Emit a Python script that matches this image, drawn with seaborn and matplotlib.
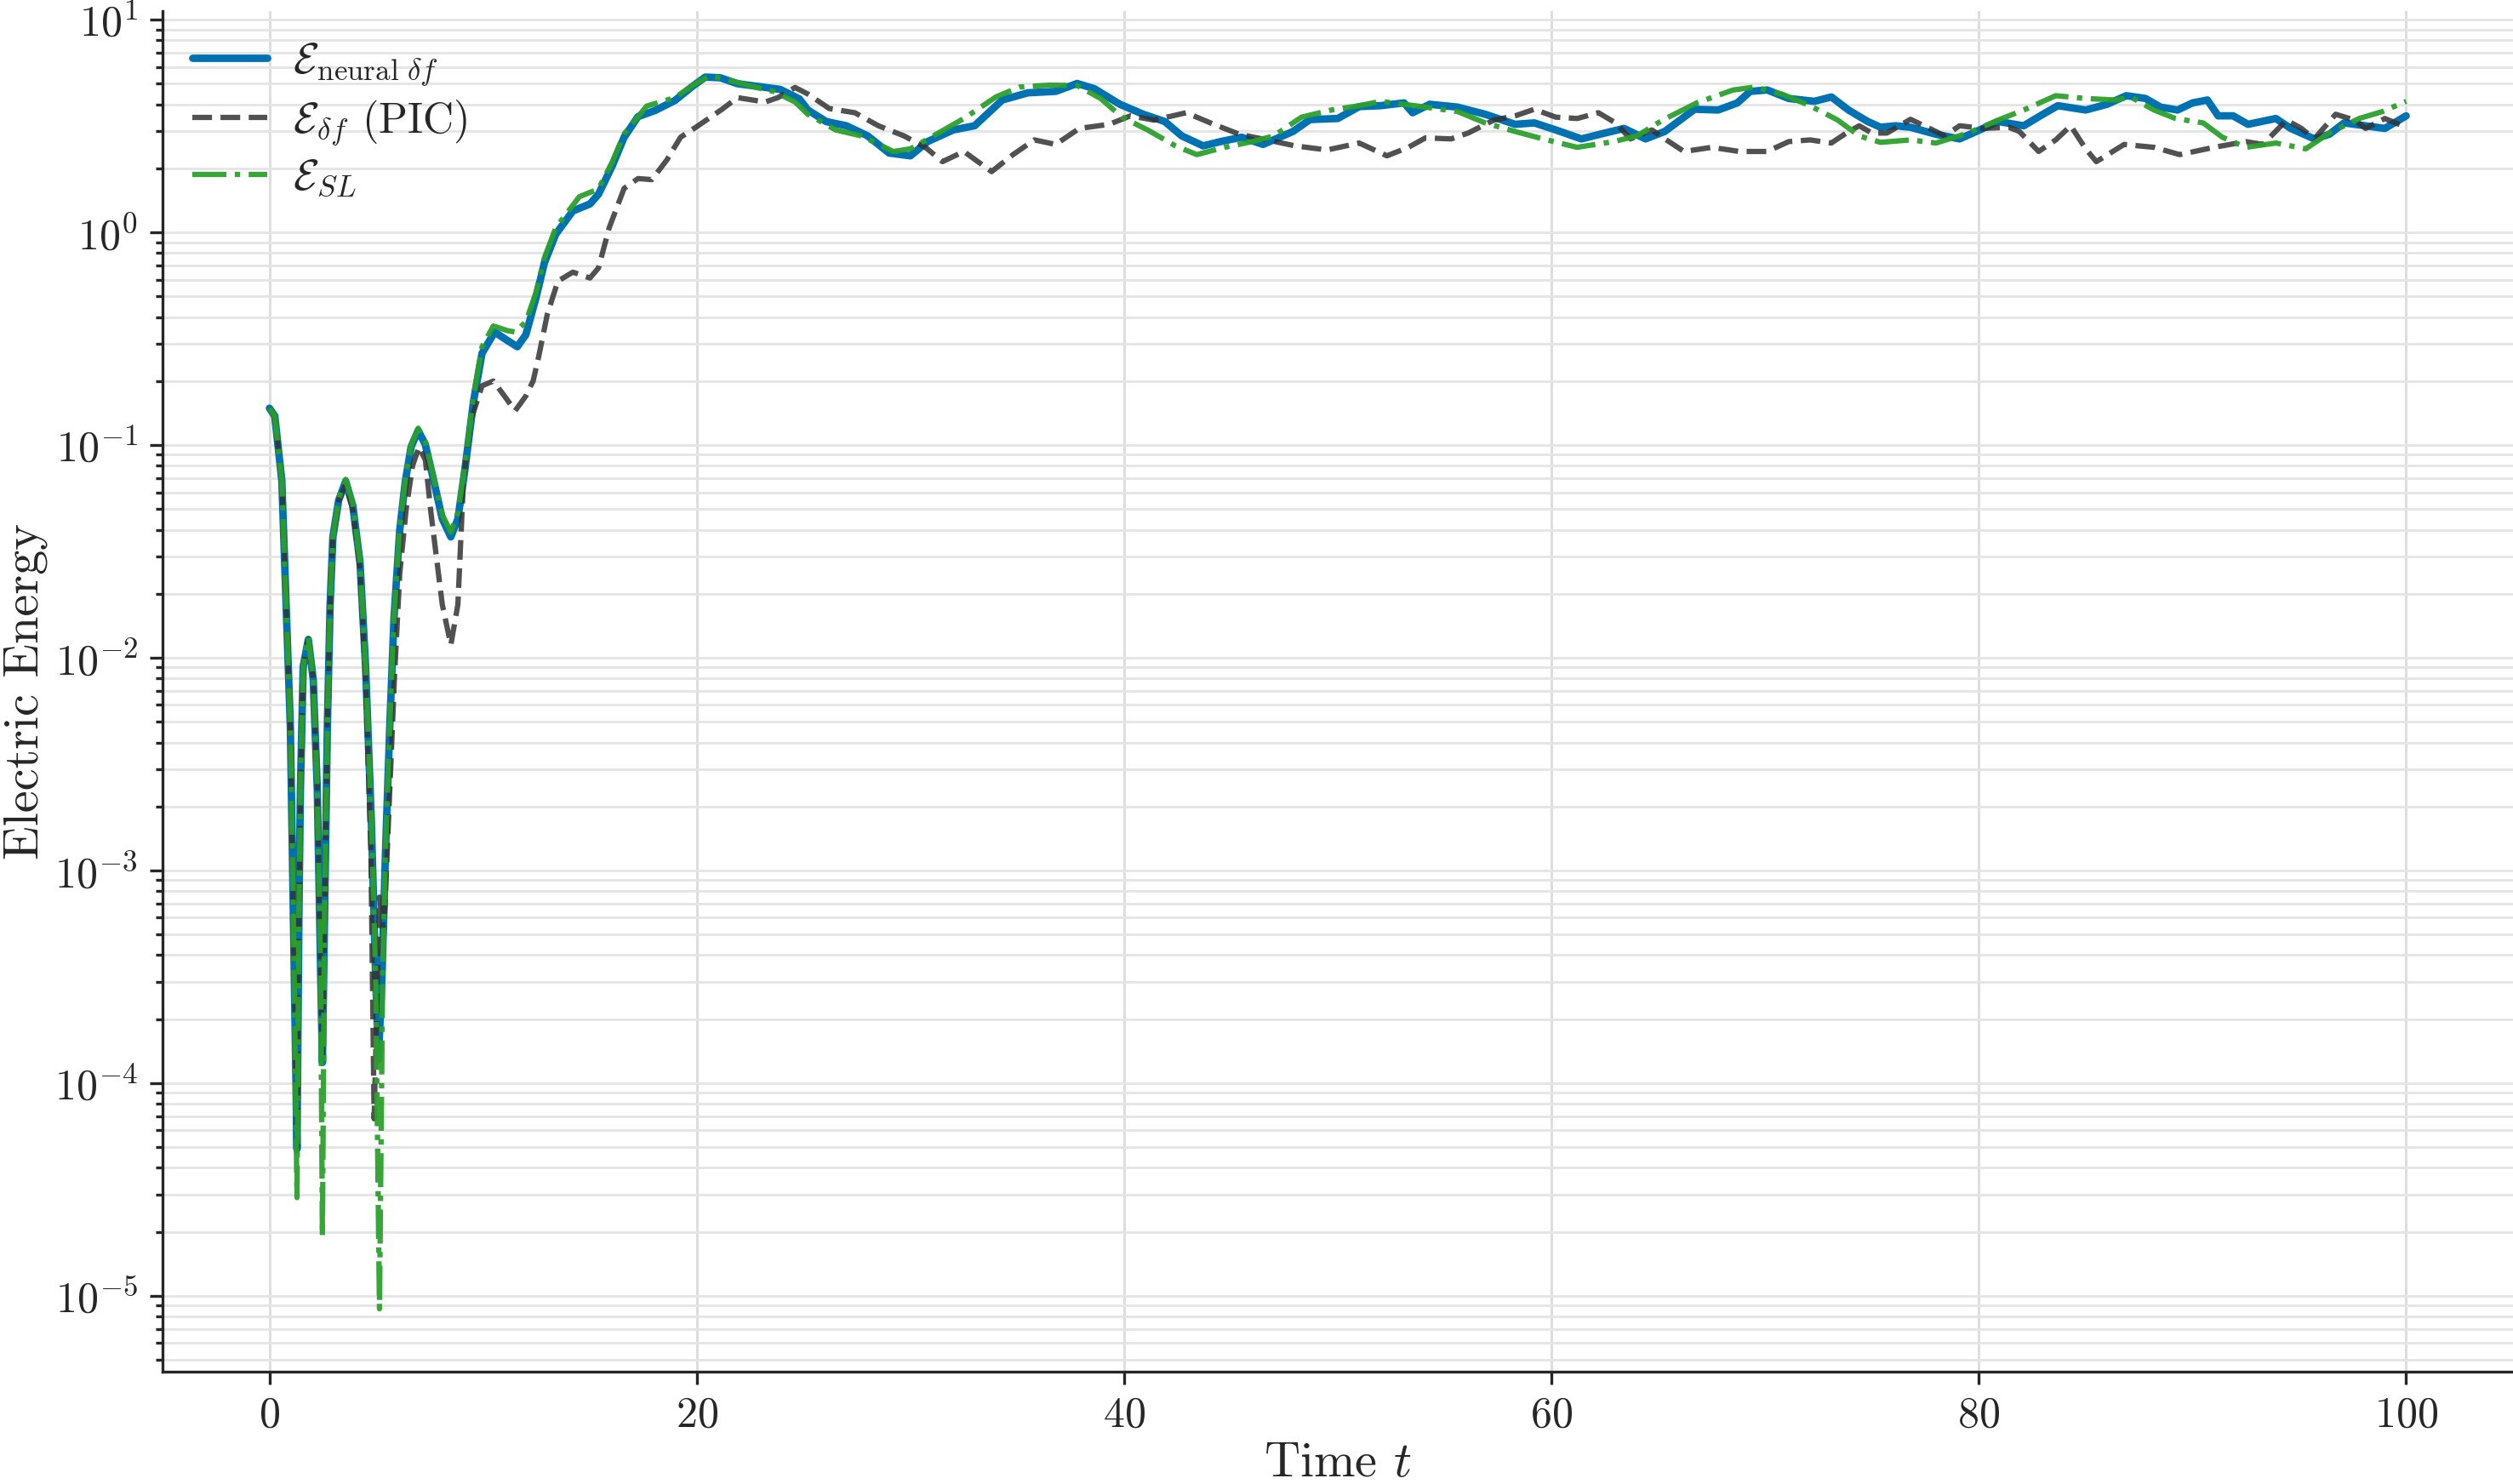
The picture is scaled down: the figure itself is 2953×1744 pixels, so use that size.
import numpy as np
import pandas as pd
import matplotlib
matplotlib.use('Agg')
import matplotlib.pyplot as plt
import seaborn as sns

# --- data (time t, electric energy) ---
t_neural = [0.0, 0.25, 0.58, 0.78, 0.98, 1.12, 1.29, 1.38, 1.45, 1.58, 1.82, 2.05, 2.24, 2.40, 2.48,
            2.58, 2.71, 2.84, 2.97, 3.24, 3.57, 3.9, 4.24, 4.5, 4.77, 4.97, 5.1, 5.27, 5.43, 5.63,
            5.83, 6.1, 6.36, 6.63, 6.96, 7.29, 7.69, 8.09, 8.49, 8.82, 9.15, 9.55, 9.95, 10.54,
            11.14, 11.6, 12.0, 12.47, 12.87, 13.4, 14.2, 15.0, 15.4, 16.05, 16.6, 17.25, 18.05,
            18.98, 19.8, 20.4, 21.1, 21.9, 23.2, 23.9, 24.8, 25.2, 26.05, 27.0, 28.0, 29.0, 30.0,
            30.8, 32.0, 33.0, 34.3, 35.5, 36.8, 37.8, 38.6, 39.8, 40.9, 41.9, 42.7, 43.7, 44.5,
            45.5, 46.5, 47.9, 48.7, 50.0, 51.0, 52.0, 53.1, 53.5, 54.3, 55.6, 56.9, 58.3, 59.2,
            60.2, 61.4, 62.5, 63.4, 64.4, 65.3, 66.7, 67.8, 68.7, 69.3, 70.1, 71.1, 72.3, 73.1,
            73.9, 74.8, 75.4, 76.1, 76.8, 78.0, 79.1, 80.2, 80.9, 82.1, 83.0, 83.7, 85.0, 86.0,
            86.9, 87.8, 88.5, 89.3, 90.0, 90.7, 91.2, 91.9, 92.6, 93.9, 94.6, 95.7, 96.4, 97.1,
            98.1, 99.0, 100.0]
E_neural = [0.149, 0.137, 0.068, 0.0178, 0.0047, 6.2e-4, 4.9e-5, 6.2e-4, 2.4e-3, 9.1e-3, 0.0122,
            7.9e-3, 2.4e-3, 3.2e-4, 1.25e-4, 6.2e-4, 4.7e-3, 0.0178, 0.037, 0.055, 0.0676, 0.052,
            0.028, 9.1e-3, 1.7e-3, 3.2e-4, 1.29e-4, 3.2e-4, 1.2e-3, 4.7e-3, 0.0154, 0.040, 0.0676,
            0.098, 0.117, 0.101, 0.068, 0.045, 0.037, 0.045, 0.077, 0.16, 0.27, 0.34, 0.31, 0.29,
            0.33, 0.49, 0.72, 0.98, 1.26, 1.36, 1.51, 2.06, 2.8, 3.5, 3.74, 4.17, 4.86, 5.37, 5.33,
            5.0, 4.8, 4.7, 4.24, 3.76, 3.32, 3.17, 2.84, 2.36, 2.29, 2.67, 3.03, 3.17, 4.19, 4.53,
            4.60, 5.01, 4.74, 4.0, 3.59, 3.32, 2.84, 2.55, 2.67, 2.80, 2.59, 2.98, 3.39, 3.43, 3.9,
            3.94, 4.06, 3.65, 4.0, 3.88, 3.59, 3.22, 3.27, 3.03, 2.75, 2.93, 3.08, 2.75, 2.98, 3.79,
            3.76, 4.06, 4.60, 4.67, 4.26, 4.13, 4.33, 3.76, 3.32, 3.12, 3.17, 3.12, 2.89, 2.75,
            3.08, 3.32, 3.17, 3.59, 3.94, 3.76, 4.0, 4.39, 4.26, 3.88, 3.76, 4.06, 4.19, 3.53, 3.53,
            3.22, 3.43, 3.08, 2.75, 2.89, 3.27, 3.17, 3.08, 3.53]

t_pic = [0.0, 0.25, 0.58, 0.78, 0.98, 1.12, 1.29, 1.38, 1.45, 1.58, 1.82, 2.05, 2.24, 2.40, 2.48,
         2.58, 2.71, 2.84, 2.97, 3.24, 3.57, 3.9, 4.24, 4.5, 4.75, 4.9, 5.15, 5.35, 5.6, 5.85, 6.1,
         6.4, 6.7, 7.0, 7.3, 7.56, 8.09, 8.49, 8.82, 9.08, 9.42, 9.95, 10.48, 11.0, 11.5, 12.0,
         12.34, 12.6, 13.0, 13.5, 14.2, 15.0, 15.4, 15.9, 16.6, 17.25, 17.9, 18.6, 19.24, 20.04,
         21.2, 21.9, 23.2, 23.8, 24.6, 25.2, 26.2, 27.4, 28.5, 29.7, 30.7, 31.5, 32.5, 33.8, 34.8,
         35.8, 36.8, 37.9, 39.3, 40.3, 41.4, 42.9, 44.2, 45.4, 46.7, 48.0, 49.5, 51.0, 52.3, 53.3,
         54.1, 55.3, 56.1, 57.3, 58.3, 59.2, 60.2, 61.2, 62.2, 63.0, 63.7, 64.7, 65.5, 66.2, 67.5,
         68.8, 70.1, 71.1, 72.1, 73.1, 73.8, 74.4, 75.0, 75.7, 76.8, 77.7, 78.4, 79.1, 80.2, 81.4,
         81.9, 82.8, 83.6, 84.3, 85.0, 85.5, 86.8, 88.2, 89.4, 91.0, 92.5, 93.3, 94.4, 95.1, 95.7,
         96.7, 97.6, 98.1, 99.0, 100.0]
E_pic = [0.149, 0.137, 0.068, 0.0178, 0.0047, 6.2e-4, 5e-5, 6.2e-4, 2.4e-3, 9.1e-3, 0.0122, 7.9e-3,
         2.4e-3, 3.2e-4, 1.3e-4, 6.2e-4, 4.7e-3, 0.0178, 0.037, 0.055, 0.065, 0.05, 0.026, 8e-3,
         1.2e-3, 6.8e-5, 7.5e-4, 5e-4, 2e-3, 8e-3, 0.025, 0.05, 0.08, 0.098, 0.085, 0.048, 0.0178,
         0.0115, 0.0178, 0.068, 0.13, 0.19, 0.2, 0.17, 0.145, 0.17, 0.2, 0.26, 0.41, 0.59, 0.65,
         0.61, 0.68, 1.05, 1.61, 1.79, 1.77, 2.19, 2.8, 3.16, 3.8, 4.3, 4.1, 4.3, 4.8, 4.47, 3.82,
         3.65, 3.17, 2.84, 2.51, 2.15, 2.4, 1.93, 2.32, 2.72, 2.59, 3.08, 3.22, 3.53, 3.37, 3.65,
         3.22, 2.89, 2.72, 2.55, 2.44, 2.63, 2.29, 2.51, 2.78, 2.75, 2.93, 3.37, 3.53, 3.79, 3.48,
         3.43, 3.65, 3.27, 2.75, 3.03, 2.67, 2.4, 2.51, 2.4, 2.4, 2.67, 2.72, 2.63, 2.93, 3.17, 2.93,
         2.93, 3.4, 3.08, 2.84, 3.17, 3.08, 3.12, 2.98, 2.4, 2.72, 3.17, 2.47, 2.15, 2.59, 2.51,
         2.32, 2.51, 2.67, 2.59, 3.37, 3.08, 2.75, 3.59, 3.37, 3.08, 3.43, 3.12]

t_sl = [0.0, 0.25, 0.58, 0.78, 0.98, 1.12, 1.29, 1.38, 1.45, 1.58, 1.82, 2.05, 2.24, 2.40, 2.48,
        2.58, 2.71, 2.84, 2.97, 3.24, 3.57, 3.9, 4.24, 4.5, 4.77, 4.97, 5.15, 5.3, 5.43, 5.63, 5.83,
        6.1, 6.36, 6.63, 6.96, 7.29, 7.69, 8.09, 8.49, 8.82, 9.15, 9.55, 9.95, 10.48, 11.14, 11.5,
        12.0, 12.47, 12.87, 13.4, 14.5, 15.4, 16.05, 16.6, 17.65, 18.98, 19.8, 20.6, 21.5, 22.6,
        23.6, 24.6, 25.2, 26.5, 27.7, 29.2, 30.0, 31.2, 32.5, 34.0, 35.1, 36.5, 37.8, 38.9, 39.9,
        41.1, 42.4, 43.4, 44.7, 46.0, 47.0, 48.3, 49.7, 51.0, 52.0, 53.6, 55.6, 56.9, 58.3, 59.6,
        61.2, 62.9, 64.0, 65.2, 66.8, 68.5, 69.5, 70.8, 72.1, 73.4, 74.4, 75.4, 76.8, 78.0, 79.5,
        80.9, 82.1, 83.6, 85.0, 86.4, 87.1, 88.2, 89.2, 90.5, 91.4, 92.5, 93.9, 95.3, 96.4, 97.8,
        98.9, 100.0]
E_sl = [0.149, 0.137, 0.068, 0.0178, 0.0047, 6.2e-4, 2.9e-5, 6.2e-4, 2.4e-3, 9.1e-3, 0.0125, 7.9e-3,
        2.4e-3, 3.2e-4, 1.9e-5, 6.2e-4, 4.7e-3, 0.0178, 0.037, 0.056, 0.069, 0.053, 0.028, 9.1e-3,
        1.7e-3, 3.2e-4, 8.7e-6, 3.2e-4, 1.2e-3, 4.7e-3, 0.0154, 0.041, 0.069, 0.1, 0.12, 0.104,
        0.07, 0.047, 0.039, 0.048, 0.08, 0.17, 0.29, 0.363, 0.345, 0.34, 0.38, 0.52, 0.76, 1.05,
        1.47, 1.6, 2.15, 2.9, 3.92, 4.3, 4.9, 5.46, 5.2, 4.85, 4.6, 4.1, 3.59, 3.03, 2.84, 2.4,
        2.47, 2.89, 3.43, 4.33, 4.82, 4.92, 4.9, 4.26, 3.48, 3.03, 2.55, 2.32, 2.51, 2.67, 2.84,
        3.48, 3.76, 3.94, 4.13, 3.94, 3.7, 3.27, 2.98, 2.75, 2.51, 2.67, 2.84, 3.37, 4.06, 4.67,
        4.82, 4.46, 3.94, 3.37, 2.84, 2.65, 2.72, 2.63, 2.93, 3.37, 3.76, 4.39, 4.26, 4.19, 4.33,
        3.76, 3.43, 3.27, 2.8, 2.51, 2.63, 2.47, 2.93, 3.43, 3.7, 4.13]

labels = [r'$\mathcal{E}_{\mathrm{neural}\ \delta f}$',
          r'$\mathcal{E}_{\delta f}$ (PIC)',
          r'$\mathcal{E}_{SL}$']

sns.set_style('ticks')
plt.rcParams['font.family'] = 'serif'
plt.rcParams['font.serif'] = ['cmr10', 'DejaVu Serif']
plt.rcParams['mathtext.fontset'] = 'cm'
plt.rcParams['axes.unicode_minus'] = False
plt.rcParams['axes.formatter.use_mathtext'] = True
plt.rcParams['xtick.major.size'] = 3.5
plt.rcParams['ytick.major.size'] = 3.5
plt.rcParams['ytick.minor.size'] = 2.0
plt.rcParams['ytick.minor.width'] = 0.8
plt.rcParams['axes.linewidth'] = 0.8

fig = plt.figure(figsize=(2953 / 300, 1744 / 300), dpi=300)
# axes box placed to match the reference frame
ax = fig.add_axes([0.0647, 0.0757, 0.9353, 0.9168])

df_nn = pd.DataFrame({'t': t_neural, 'E': E_neural})
df_pic = pd.DataFrame({'t': t_pic, 'E': E_pic})
df_sl = pd.DataFrame({'t': t_sl, 'E': E_sl})

sns.lineplot(data=df_nn, x='t', y='E', ax=ax, color='#0072B2', lw=2.1,
             label=labels[0], estimator=None, zorder=3)
sns.lineplot(data=df_pic, x='t', y='E', ax=ax, color='#333333', lw=1.5, ls='--', alpha=0.85,
             label=labels[1], estimator=None, zorder=4)
sns.lineplot(data=df_sl, x='t', y='E', ax=ax, color='#2ca02c', lw=1.5, ls='-.', alpha=0.95,
             label=labels[2], estimator=None, zorder=5)

ax.set_yscale('log')
ax.set_xlim(-5, 105)
ax.set_ylim(10 ** -5.356, 10 ** 1.04)
ax.set_xticks([0, 20, 40, 60, 80, 100])

ax.set_axisbelow(True)
ax.grid(True, which='both', axis='y', color='#e5e5e5', lw=0.7)
ax.grid(True, which='major', axis='x', color='#dddddd', lw=0.7)

ax.set_xlabel(r'Time $t$', fontsize=14, labelpad=2)
ax.set_ylabel('Electric Energy', fontsize=14, labelpad=2)
ax.tick_params(axis='both', which='major', labelsize=12)
sns.despine(ax=ax)

ax.legend(loc='upper left', frameon=False, fontsize=12, handlelength=1.75,
          handletextpad=0.6, labelspacing=0.25, borderaxespad=0.3,
          bbox_to_anchor=(0.0, 1.0))

fig.savefig('out.png', dpi=300)
